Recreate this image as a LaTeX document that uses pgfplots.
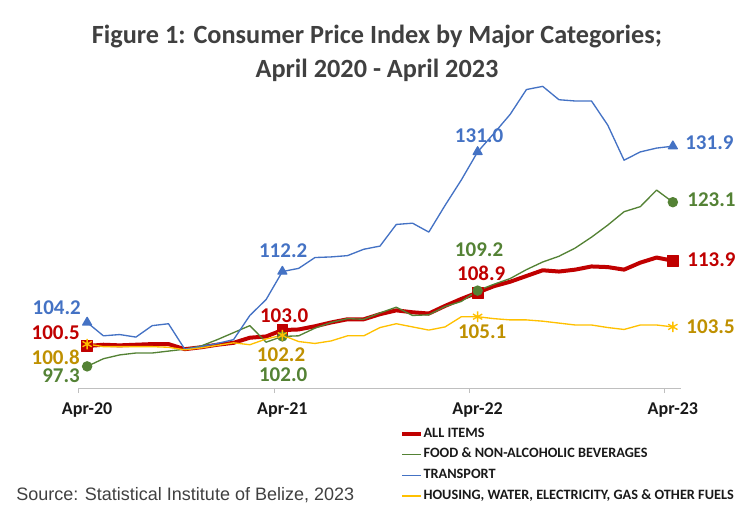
\documentclass[border=0pt]{standalone}
\usepackage{pgfplots}
\pgfplotsset{compat=1.18}
\usepackage{pgfplotstable}
\usepackage{fontspec}
\setmainfont{Carlito}
\newfontfamily\arialfont{Liberation Sans}
\definecolor{cRed}{HTML}{C00000}
\definecolor{cGreen}{HTML}{548235}
\definecolor{cBlue}{HTML}{4472C4}
\definecolor{cYellow}{HTML}{FFC000}
\definecolor{cGold}{HTML}{BF9000}
\definecolor{cTitle}{HTML}{404040}
\definecolor{cAxis}{HTML}{BFBFBF}

\pgfplotstableread{
idx all food transport housing
0 100.5 97.3 104.2 100.8
1 100.7 98.5 102.1 100.4
2 100.6 99.1 102.3 100.4
3 100.7 99.4 101.9 100.4
4 100.8 99.4 103.7 100.4
5 100.8 99.7 104.0 100.3
6 100.0 100.0 100.0 99.9
7 100.3 100.5 100.4 100.2
8 100.7 101.5 100.9 100.6
9 101.0 102.6 101.5 101.0
10 101.8 103.7 105.3 100.7
11 102.0 101.1 107.8 101.6
12 103.0 102.0 112.2 102.2
13 103.1 102.1 112.7 101.2
14 103.6 103.3 114.4 100.9
15 104.2 104.2 114.5 101.3
16 104.7 104.8 114.7 102.1
17 104.7 104.7 115.7 102.1
18 105.5 105.7 116.2 103.4
19 106.1 106.6 119.6 104.0
20 105.8 105.3 119.8 103.5
21 105.6 105.4 118.4 103.0
22 106.8 106.7 122.6 103.5
23 107.9 107.5 126.6 105.1
24 108.9 109.2 131.0 105.1
25 109.9 110.2 133.9 104.8
26 110.6 111.1 136.9 104.6
27 111.5 112.5 140.8 104.6
28 112.4 113.7 141.3 104.4
29 112.2 114.6 139.2 104.1
30 112.5 115.9 139.0 103.8
31 113.0 117.6 139.0 103.8
32 112.9 119.5 135.2 103.4
33 112.5 121.6 129.7 103.1
34 113.6 122.4 131.0 103.8
35 114.4 125.0 131.6 103.8
36 113.9 123.1 131.9 103.5
}\datatable

\begin{document}
\begin{tikzpicture}
\useasboundingbox (-59.25pt,-90pt) rectangle (498pt,291pt);
\begin{axis}[
  scale only axis,
  width=451.5pt, height=231pt,
  xmin=-0.5, xmax=36.5,
  ymin=93.9, ymax=142.3,
  axis x line*=bottom,
  axis y line=none,
  axis line style={-, draw=cAxis, line width=0.75pt},
  ytick=\empty,
  xtick={0,12,24,36},
  xticklabels={Apr-20,Apr-21,Apr-22,Apr-23},
  xtick style={draw=none},
  xticklabel style={font=\bfseries\fontsize{13.5}{14}\selectfont, text=black!90, anchor=center, inner sep=0pt, yshift=-16.5pt},
  extra x ticks={-0.5,11.5,23.5,35.5},
  extra x tick labels={},
  extra x tick style={tick align=outside, major tick length=3.75pt, xtick style={draw=cAxis, line width=0.75pt}},
  clip=false,
  legend style={at={(0.5332,-0.1277)}, anchor=north west, draw=none, fill=none, inner sep=0pt,
    font=\bfseries\fontsize{10.7}{11}\selectfont, text=black!90,
    row sep=6pt,
    nodes={inner sep=0pt, text height=7.2pt, text depth=2.3pt},
    /tikz/every odd column/.append style={column sep=0.5pt}},
  legend cell align=left,
  legend image code/.code={\draw[#1,mark=none] (0pt,0pt) -- (14pt,0pt);},
  every axis plot/.append style={line join=round},
]
\addplot[cRed, line width=3pt, mark=square*, mark size=4pt, mark indices={1,13,25,37}, mark options={line width=0.5pt, fill=cRed}] table[x=idx,y=all]{\datatable};
\addlegendentry{ALL ITEMS}
\addplot[cGreen, line width=1pt, mark=*, mark size=3.4pt, mark indices={1,13,25,37}, mark options={fill=cGreen}] table[x=idx,y=food]{\datatable};
\addlegendentry{FOOD \& NON-ALCOHOLIC BEVERAGES}
\addplot[cBlue, line width=1pt, mark=triangle*, mark size=3.8pt, mark indices={1,13,25,37}, mark options={fill=cBlue}] table[x=idx,y=transport]{\datatable};
\addlegendentry{TRANSPORT}
\addplot[cYellow, line width=1pt, mark=asterisk, mark size=4pt, mark indices={1,13,25,37}, mark options={line width=1pt}] table[x=idx,y=housing]{\datatable};
\addlegendentry{HOUSING, WATER, ELECTRICITY, GAS \& OTHER FUELS}

\begin{scope}[every node/.style={font=\bfseries\fontsize{15.75}{16}\selectfont, inner sep=0pt}]
\node[anchor=east, text=cBlue] at (axis cs:-0.37,106.47) {104.2};
\node[anchor=east, text=cRed] at (axis cs:-0.43,102.54) {100.5};
\node[anchor=east, text=cGold] at (axis cs:-0.43,98.65) {100.8};
\node[anchor=east, text=cGreen] at (axis cs:-0.43,95.80) {97.3};
\node[text=cBlue] at (axis cs:12.05,115.41) {112.2};
\node[text=cRed] at (axis cs:12.11,105.29) {103.0};
\node[text=cGold] at (axis cs:11.92,99.09) {102.2};
\node[text=cGreen] at (axis cs:12.05,95.95) {102.0};
\node[text=cBlue] at (axis cs:24.09,133.55) {131.0};
\node[text=cGreen] at (axis cs:24.09,115.57) {109.2};
\node[text=cRed] at (axis cs:24.22,111.96) {108.9};
\node[text=cGold] at (axis cs:24.28,102.70) {105.1};
\node[anchor=west, text=cBlue] at (axis cs:36.75,132.45) {131.9};
\node[anchor=west, text=cGreen] at (axis cs:36.88,123.42) {123.1};
\node[anchor=west, text=cRed] at (axis cs:36.88,114.0) {113.9};
\node[anchor=west, text=cGold] at (axis cs:36.82,103.56) {103.5};
\end{scope}
\end{axis}
\node[font=\bfseries\fontsize{19.7}{21}\selectfont, text=cTitle, inner sep=0pt] at (223.5pt,263.25pt) {Figure 1: Consumer Price Index by Major Categories;};
\node[font=\bfseries\fontsize{19.7}{21}\selectfont, text=cTitle, inner sep=0pt] at (223.5pt,238.5pt) {April 2020 - April 2023};
\node[font=\arialfont\fontsize{13.5}{14}\selectfont, text=cTitle, anchor=west, inner sep=0pt] at (-47.25pt,-80.25pt) {Source: Statistical Institute of Belize, 2023};
\end{tikzpicture}
\end{document}
